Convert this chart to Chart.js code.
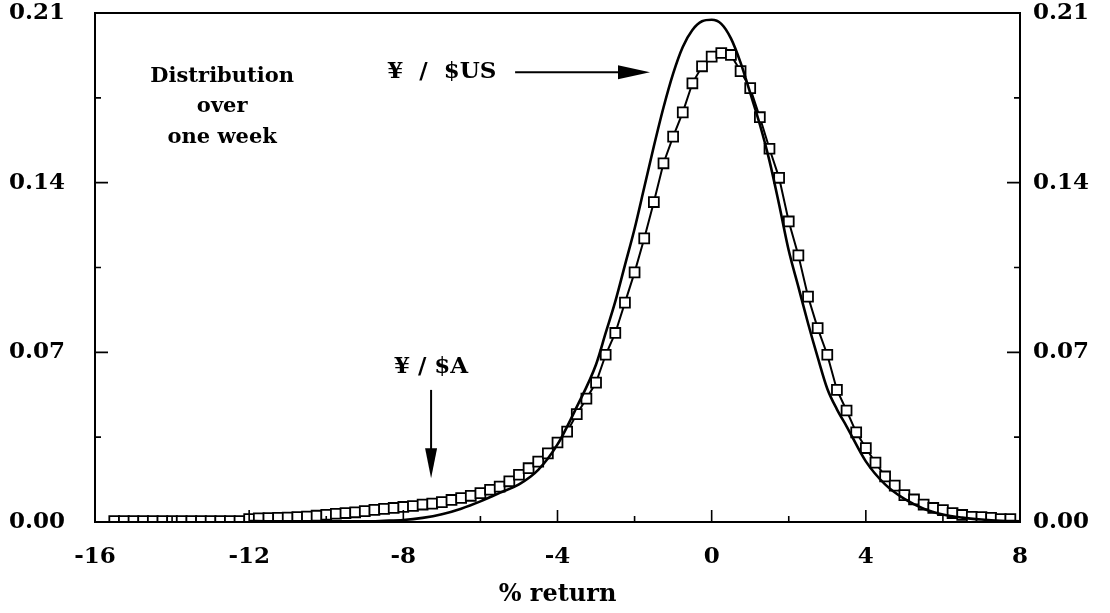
<!DOCTYPE html>
<html>
<head>
<meta charset="utf-8">
<script src="https://cdn.jsdelivr.net/npm/chart.js@4/dist/chart.umd.min.js"></script>
<style>
  html, body { margin: 0; padding: 0; background: #fff; }
  #wrap { width: 1110px; height: 613px; }
</style>
</head>
<body>
<div id="wrap"><canvas id="fxChart" width="1110" height="613"></canvas></div>
<script>
// weekly % return, Yen / $A (squares)
const returnsA = [
  -15.5, -15.25, -15, -14.75, -14.5, -14.25, -14, -13.75, -13.5, -13.25, -13, -12.75, -12.5, -12.25,
  -12, -11.75, -11.5, -11.25, -11, -10.75, -10.5, -10.25, -10, -9.75, -9.5, -9.25, -9, -8.75,
  -8.5, -8.25, -8, -7.75, -7.5, -7.25, -7, -6.75, -6.5, -6.25, -6, -5.75, -5.5, -5.25,
  -5, -4.75, -4.5, -4.25, -4, -3.75, -3.5, -3.25, -3, -2.75, -2.5, -2.25, -2, -1.75,
  -1.5, -1.25, -1, -0.75, -0.5, -0.25, 0, 0.25, 0.5, 0.75, 1, 1.25, 1.5, 1.75,
  2, 2.25, 2.5, 2.75, 3, 3.25, 3.5, 3.75, 4, 4.25, 4.5, 4.75, 5, 5.25,
  5.5, 5.75, 6, 6.25, 6.5, 6.75, 7, 7.25, 7.5, 7.75
];
const densityA = [
  0.0004, 0.0004, 0.0004, 0.0004, 0.0004, 0.0004, 0.0004, 0.0004, 0.0004, 0.0004, 0.0004, 0.0004, 0.0004, 0.0004,
  0.0012, 0.0015, 0.0016, 0.0017, 0.0018, 0.0020, 0.0022, 0.0026, 0.0030, 0.0034, 0.0037, 0.0040, 0.0045, 0.0050,
  0.0054, 0.0058, 0.0062, 0.0066, 0.0072, 0.0076, 0.0082, 0.0091, 0.0099, 0.0108, 0.0119, 0.0133, 0.0146, 0.0168,
  0.0195, 0.0222, 0.0249, 0.0283, 0.0328, 0.0373, 0.0445, 0.0509, 0.0575, 0.0690, 0.0780, 0.0905, 0.1030, 0.1170,
  0.1320, 0.1480, 0.1590, 0.1690, 0.1810, 0.1880, 0.1920, 0.1935, 0.1927, 0.1860, 0.1790, 0.1670, 0.1540, 0.1420,
  0.1240, 0.1100, 0.0930, 0.0800, 0.0690, 0.0545, 0.0460, 0.0370, 0.0305, 0.0245, 0.0188, 0.0150, 0.0111, 0.0093,
  0.0072, 0.0058, 0.0049, 0.0037, 0.0029, 0.0021, 0.0020, 0.0017, 0.0012, 0.0012
];

// weekly % return, Yen / $US (solid line)
const returnsUS = [
  -12, -11.5, -11, -10.5, -10, -9.5, -9, -8.5, -8, -7.5, -7, -6.5, -6, -5.5, -5, -4.5, -4, -3.5,
  -3, -2.75, -2.5, -2.25, -2, -1.75, -1.5, -1.25, -1, -0.75, -0.5, -0.25, 0, 0.25, 0.5, 0.75,
  1, 1.25, 1.5, 1.75, 2, 2.25, 2.5, 2.75, 3, 3.25, 3.5, 4, 4.5, 5, 5.5, 6, 6.5, 7, 7.5, 8
];
const densityUS = [
  0.0004, 0.0003, 0.0003, 0.0003, 0.0003, 0.0003, 0.0003, 0.0005, 0.0008, 0.0017, 0.0032, 0.0055, 0.0085, 0.0120, 0.0155, 0.0215, 0.0320, 0.0475,
  0.0650, 0.0780, 0.0910, 0.1060, 0.1210, 0.1380, 0.1550, 0.1710, 0.1850, 0.1960, 0.2030, 0.2066, 0.2072, 0.2055, 0.1995, 0.1895,
  0.1770, 0.1640, 0.1490, 0.1310, 0.1120, 0.0970, 0.0820, 0.0680, 0.0550, 0.0465, 0.0395, 0.0250, 0.0155, 0.0095, 0.0055, 0.0031, 0.0018, 0.0010, 0.0005, 0.0003
];

const xTicks = [-16, -12, -8, -4, 0, 4, 8];
const xMinorTicks = [-14, -10, -6, -2, 2, 6];
const yTicks = [0, 0.07, 0.14, 0.21];
const yMinorTicks = [0.035, 0.105, 0.175];

const serif = "'DejaVu Serif', 'Liberation Serif', serif";
const tickFont = { family: serif, size: 23, weight: 'bold' };

// frame, inward ticks and the text notes
const framePlugin = {
  id: 'frame',
  afterDraw(chart) {
    const { ctx, chartArea: a, scales } = chart;
    const xs = scales.x, ys = scales.y;
    ctx.save();
    ctx.strokeStyle = '#000';
    ctx.lineWidth = 2;
    ctx.strokeRect(a.left, a.top, a.right - a.left, a.bottom - a.top);

    ctx.lineWidth = 1.6;
    ctx.beginPath();
    xTicks.forEach(v => {
      const px = xs.getPixelForValue(v);
      ctx.moveTo(px, a.bottom); ctx.lineTo(px, a.bottom - 12);
    });
    xMinorTicks.forEach(v => {
      const px = xs.getPixelForValue(v);
      ctx.moveTo(px, a.bottom); ctx.lineTo(px, a.bottom - 6);
    });
    yTicks.forEach(v => {
      const py = ys.getPixelForValue(v);
      ctx.moveTo(a.left, py); ctx.lineTo(a.left + 13, py);
      ctx.moveTo(a.right, py); ctx.lineTo(a.right - 13, py);
    });
    yMinorTicks.forEach(v => {
      const py = ys.getPixelForValue(v);
      ctx.moveTo(a.left, py); ctx.lineTo(a.left + 6, py);
      ctx.moveTo(a.right, py); ctx.lineTo(a.right - 6, py);
    });
    ctx.stroke();

    ctx.fillStyle = '#000';
    ctx.textAlign = 'center';
    ctx.textBaseline = 'middle';
    const X = v => xs.getPixelForValue(v), Y = v => ys.getPixelForValue(v);
    ctx.font = "bold 21px " + serif;
    ctx.fillText('Distribution', X(-12.7), Y(0.1838));
    ctx.fillText('over', X(-12.7), Y(0.1714));
    ctx.fillText('one week', X(-12.7), Y(0.1586));
    ctx.font = "bold 23px " + serif;
    ctx.fillText('¥  /  $US', X(-7.0), Y(0.1858));
    ctx.fillText('¥ / $A', X(-7.28), Y(0.0640));

    // arrow to Yen/$US
    const ay = Y(0.1856), ax0 = X(-5.1), ax1 = X(-1.6);
    ctx.lineWidth = 2;
    ctx.beginPath(); ctx.moveTo(ax0, ay); ctx.lineTo(ax1 - 20, ay); ctx.stroke();
    ctx.beginPath(); ctx.moveTo(ax1, ay); ctx.lineTo(ax1 - 32, ay - 7); ctx.lineTo(ax1 - 32, ay + 7); ctx.closePath(); ctx.fill();

    // arrow to Yen/$A
    const bx = X(-7.28), by0 = Y(0.0545), by1 = Y(0.018);
    ctx.beginPath(); ctx.moveTo(bx, by0); ctx.lineTo(bx, by1 - 20); ctx.stroke();
    ctx.beginPath(); ctx.moveTo(bx, by1); ctx.lineTo(bx - 6, by1 - 30); ctx.lineTo(bx + 6, by1 - 30); ctx.closePath(); ctx.fill();
    ctx.restore();
  }
};

const ctx = document.getElementById('fxChart').getContext('2d');

const fxChart = new Chart(ctx, {
    type: 'line',
    data: {
        datasets: [{
            label: '¥ / $US',
            data: returnsUS.map((x, i) => ({ x: x, y: densityUS[i] })),
            borderColor: '#000',
            borderWidth: 2.6,
            pointRadius: 0,
            cubicInterpolationMode: 'monotone',
            fill: false
        }, {
            label: '¥ / $A',
            data: returnsA.map((x, i) => ({ x: x, y: densityA[i] })),
            borderColor: '#000',
            borderWidth: 2,
            pointStyle: 'rect',
            pointRadius: 7,
            pointBorderWidth: 1.8,
            pointBackgroundColor: '#fff',
            pointBorderColor: '#000',
            tension: 0,
            fill: false
        }]
    },
    options: {
        responsive: false,
        animation: false,
        layout: { padding: { top: 13 } },
        plugins: { legend: { display: false }, tooltip: { enabled: false } },
        scales: {
            x: {
                type: 'linear',
                min: -16,
                max: 8,
                afterBuildTicks: s => { s.ticks = xTicks.map(v => ({ value: v })); },
                afterFit: s => { s.height = 91; s.paddingLeft = 0; s.paddingRight = 0; },
                grid: { display: false },
                border: { display: false },
                ticks: { color: '#000', font: tickFont, padding: 13, maxRotation: 0 },
                title: {
                    display: true,
                    text: '% return',
                    color: '#000',
                    font: { family: serif, size: 24, weight: 'bold' },
                    padding: { top: 8 }
                }
            },
            y: {
                position: 'left',
                min: 0,
                max: 0.21,
                afterBuildTicks: s => { s.ticks = yTicks.map(v => ({ value: v })); },
                afterFit: s => { s.width = 95; s.paddingTop = 0; s.paddingBottom = 0; },
                grid: { display: false },
                border: { display: false },
                ticks: { color: '#000', font: tickFont, padding: 22, callback: v => v.toFixed(2) }
            },
            y2: {
                position: 'right',
                min: 0,
                max: 0.21,
                afterBuildTicks: s => { s.ticks = yTicks.map(v => ({ value: v })); },
                afterFit: s => { s.width = 90; s.paddingTop = 0; s.paddingBottom = 0; },
                grid: { display: false },
                border: { display: false },
                ticks: { color: '#000', font: tickFont, padding: 5, callback: v => v.toFixed(2) }
            }
        }
    },
    plugins: [framePlugin]
});
</script>
</body>
</html>
